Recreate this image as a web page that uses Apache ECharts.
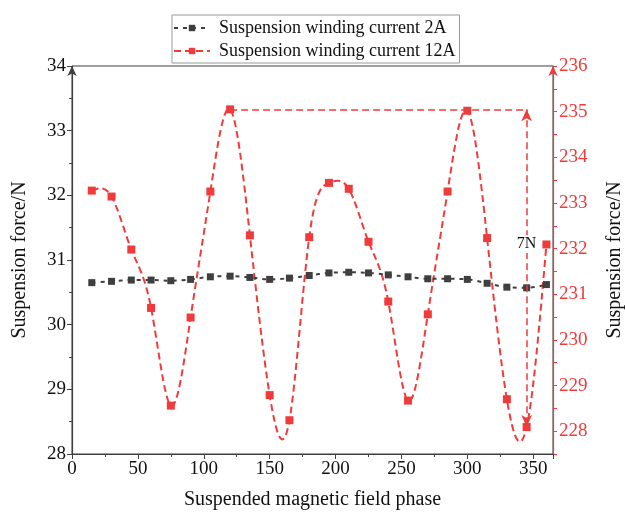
<!DOCTYPE html>
<html>
<head>
<meta charset="utf-8">
<script src="https://cdn.jsdelivr.net/npm/echarts@6/dist/echarts.min.js"></script>
<style>
  html, body { margin: 0; background: #fff; }
  #chart { width: 625px; height: 514px; }
</style>
</head>
<body>
<div id="chart"></div>
<script>
// 悬浮磁场相位
const phase = [15, 30, 45, 60, 75, 90, 105, 120, 135, 150, 165, 180,
  195, 210, 225, 240, 255, 270, 285, 300, 315, 330, 345, 360];
// 悬浮绕组电流 2A（左轴）
const current2A = [30.65, 30.67, 30.69, 30.69, 30.68, 30.70, 30.74, 30.75, 30.73, 30.70, 30.72, 30.76,
  30.80, 30.81, 30.80, 30.77, 30.74, 30.71, 30.71, 30.70, 30.64, 30.58, 30.57, 30.62];
// 悬浮绕组电流 12A（右轴）
const current12A = [233.27, 233.14, 231.98, 230.70, 228.56, 230.49, 233.25, 235.05, 232.29, 228.79, 228.24, 232.25,
  233.44, 233.31, 232.15, 230.84, 228.67, 230.56, 233.25, 235.02, 232.23, 228.70, 228.09, 232.09];
// 7N 标注
const spanX = [120, 345];
const spanY = [235.05, 228.09];
const spanLabel = { text: '7N', at: [345, 232.1] };

const seriesNames = ['Suspension winding current 2A', 'Suspension winding current 12A'];
const black = '#3f3f3f';
const red = '#ef3b3b';
const font = 'Liberation Serif';
const redDash = [7, 4];

// 自然三次样条 -> 贝塞尔路径（像素坐标）
function splinePath(pts) {
  const n = pts.length;
  const x = pts.map(p => p[0]), y = pts.map(p => p[1]);
  const h = [];
  for (let i = 0; i < n - 1; i++) h.push(x[i + 1] - x[i]);
  const M = new Array(n).fill(0);
  const b = [], c = [], d = [], a = [];
  for (let i = 1; i < n - 1; i++) {
    a[i] = h[i - 1];
    b[i] = 2 * (h[i - 1] + h[i]);
    c[i] = h[i];
    d[i] = 6 * ((y[i + 1] - y[i]) / h[i] - (y[i] - y[i - 1]) / h[i - 1]);
  }
  for (let i = 2; i < n - 1; i++) {
    const w = a[i] / b[i - 1];
    b[i] -= w * c[i - 1];
    d[i] -= w * d[i - 1];
  }
  M[n - 2] = d[n - 2] / b[n - 2];
  for (let i = n - 3; i >= 1; i--) M[i] = (d[i] - c[i] * M[i + 1]) / b[i];

  let path = 'M' + x[0] + ' ' + y[0];
  for (let i = 0; i < n - 1; i++) {
    const hi = h[i];
    const s = (y[i + 1] - y[i]) / hi;
    const m0 = s - hi * (2 * M[i] + M[i + 1]) / 6;
    const m1 = s + hi * (M[i] + 2 * M[i + 1]) / 6;
    path += ' C' + (x[i] + hi / 3) + ' ' + (y[i] + m0 * hi / 3) + ' ' +
      (x[i + 1] - hi / 3) + ' ' + (y[i + 1] - m1 * hi / 3) + ' ' + x[i + 1] + ' ' + y[i + 1];
  }
  return path;
}

const chart = echarts.init(document.getElementById('chart'));

const option = {
  animation: false,
  textStyle: { fontFamily: font },
  grid: {
    left: 72, right: 72, top: 66, bottom: 60,
    containLabel: false, outerBoundsMode: 'none',
    show: true, borderColor: black, borderWidth: 1
  },
  legend: {
    data: [
      seriesNames[0],
      { name: seriesNames[1], lineStyle: { opacity: 1, color: red, width: 2, type: redDash } }
    ],
    orient: 'vertical',
    left: 172, top: 15,
    borderColor: '#999', borderWidth: 1,
    padding: [4, 4, 3, 1],
    itemGap: 5, itemWidth: 36, itemHeight: 8,
    textStyle: { fontFamily: font, fontSize: 18, color: '#111', padding: [0, 0, 0, 4] }
  },
  xAxis: {
    type: 'value',
    min: 0, max: 365, interval: 50,
    name: 'Suspended magnetic field phase',
    nameLocation: 'middle', nameGap: 36,
    nameTextStyle: { fontFamily: font, fontSize: 20, color: '#111' },
    axisLine: { lineStyle: { color: black, width: 1.2 } },
    axisTick: { inside: false, length: 5, lineStyle: { color: black } },
    minorTick: { show: true, splitNumber: 2, length: 3, lineStyle: { color: black } },
    axisLabel: {
      fontFamily: font, fontSize: 19, color: '#111', margin: 6,
      formatter: v => (v % 50 === 0 ? String(v) : '')
    },
    splitLine: { show: false }
  },
  yAxis: [
    {
      type: 'value',
      min: 28, max: 34, interval: 1,
      position: 'left',
      name: 'Suspension force/N',
      nameLocation: 'middle', nameGap: 42,
      nameTextStyle: { fontFamily: font, fontSize: 20, color: '#111' },
      axisLine: { show: true, symbol: ['none', 'arrow'], symbolSize: [7, 10],
        lineStyle: { color: black, width: 1.2 } },
      axisTick: { length: 5, lineStyle: { color: black } },
      minorTick: { show: true, splitNumber: 2, length: 3, lineStyle: { color: black } },
      axisLabel: { fontFamily: font, fontSize: 19, color: '#111', margin: 6 },
      splitLine: { show: false }
    },
    {
      type: 'value',
      min: 227.5, max: 236, interval: 0.5,
      position: 'right',
      name: 'Suspension force/N',
      nameLocation: 'middle', nameGap: 52,
      nameTextStyle: { fontFamily: font, fontSize: 20, color: '#111' },
      axisLine: { show: true, symbol: ['none', 'arrow'], symbolSize: [7, 10],
        lineStyle: { color: red, width: 1.2 } },
      axisTick: { length: 4, lineStyle: { color: red } },
      axisLabel: {
        fontFamily: font, fontSize: 19, color: red, margin: 6,
        formatter: v => (Number.isInteger(v) ? String(v) : '')
      },
      splitLine: { show: false }
    }
  ],
  series: [
    {
      name: seriesNames[0],
      type: 'line',
      yAxisIndex: 0,
      data: phase.map((p, i) => [p, current2A[i]]),
      smooth: 0.4,
      symbol: 'rect', symbolSize: 7,
      itemStyle: { color: black },
      lineStyle: { color: black, width: 2, type: [4, 5] },
      z: 3
    },
    {
      // 12A 样条曲线
      type: 'custom',
      yAxisIndex: 1,
      silent: true,
      data: phase.map((p, i) => [p, current12A[i]]),
      encode: { x: 0, y: 1 },
      z: 1,
      renderItem: function (params, api) {
        if (params.dataIndex !== 0) return null;
        const pts = phase.map((p, i) => api.coord([p, current12A[i]]));
        return {
          type: 'path',
          shape: { pathData: splinePath(pts) },
          style: { fill: 'none', stroke: red, lineWidth: 2, lineDash: redDash }
        };
      }
    },
    {
      name: seriesNames[1],
      type: 'line',
      yAxisIndex: 1,
      data: phase.map((p, i) => [p, current12A[i]]),
      symbol: 'rect', symbolSize: 8,
      itemStyle: { color: red },
      lineStyle: { color: red, width: 2, type: redDash, opacity: 0 },
      z: 2,
      markLine: {
        silent: true,
        animation: false,
        lineStyle: { color: red, width: 1.5, type: redDash, opacity: 1 },
        label: { show: false },
        data: [
          [
            { coord: [spanX[0], spanY[0]], symbol: 'none' },
            { coord: [spanX[1], spanY[0]], symbol: 'none' }
          ],
          [
            { coord: [spanX[1], spanY[0]], symbol: 'arrow', symbolSize: [8, 12] },
            { coord: [spanX[1], spanY[1]], symbol: 'arrow', symbolSize: [8, 12] }
          ]
        ]
      },
      markPoint: {
        silent: true,
        symbol: 'rect', symbolSize: 1,
        itemStyle: { color: 'rgba(0,0,0,0)' },
        label: {
          show: true, position: 'inside',
          formatter: spanLabel.text,
          fontFamily: font, fontSize: 16, color: '#111',
          backgroundColor: '#fff', padding: [1, 0]
        },
        data: [{ coord: spanLabel.at }]
      }
    }
  ]
};

chart.setOption(option);
window.onresize = function () { chart.resize(); };
</script>
</body>
</html>
